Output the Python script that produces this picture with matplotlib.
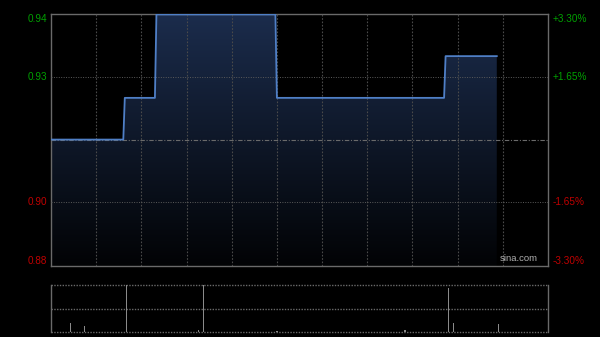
import numpy as np
import matplotlib
matplotlib.use('Agg')
import matplotlib.pyplot as plt
from matplotlib.patches import Polygon

plt.rcParams['font.family'] = ['Liberation Sans', 'DejaVu Sans']

# price vertices (minutes since 9:30, HK session = 330 min)
times = [0, 48, 49, 69, 70, 149, 150, 261, 262, 296]
prices = [0.915, 0.915, 0.925, 0.925, 0.945, 0.945, 0.925, 0.925, 0.935, 0.935]
prev_close = 0.9149

left_ticks = [0.9451, 0.93, 0.90, 0.8847]
left_labels = ['0.94', '0.93', '0.90', '0.88']
right_labels = ['+3.30%', '+1.65%', '-1.65%', '-3.30%']

# volume bars
vol_t = [13, 22, 50, 98, 101, 150, 235, 264, 267, 297]
vol_v = [19, 13, 100, 5, 100, 2, 5, 94, 20, 18]

total_min = 330
ymin, ymax = 0.8847, 0.9451

fig = plt.figure(figsize=(6, 3.37), dpi=100)
fig.patch.set_facecolor('black')

ax = fig.add_axes([51/600, 71/337, 497/600, 252/337])
ax.set_facecolor('black')
ax.set_xlim(0, total_min)
ax.set_ylim(ymin, ymax)

# gradient fill under the line
grad = np.linspace(0, 1, 256).reshape(-1, 1)
top_c = np.array([0x1b, 0x2c, 0x4c]) / 255
bot_c = np.array([0x02, 0x03, 0x05]) / 255
img = top_c * grad[..., None] + bot_c * (1 - grad[..., None])
im = ax.imshow(img, extent=[0, total_min, ymin, ymax], origin='lower',
               aspect='auto', zorder=1)
poly = Polygon(list(zip(times, prices)) + [(times[-1], ymin), (times[0], ymin)],
               closed=True, transform=ax.transData, facecolor='none', edgecolor='none')
ax.add_patch(poly)
im.set_clip_path(poly)

ax.plot(times, prices, color='#4f7fc6', lw=1.3, zorder=4)

# grid
for m in range(30, total_min, 30):
    ax.axvline(m, color='#4a4a4a', lw=0.8, ls=(0, (1.5, 1.5)), zorder=3)
for y in [0.93, 0.90]:
    ax.axhline(y, color='#5a5a5a', lw=0.7, ls=(0, (1, 1.5)), zorder=3)
ax.axhline(prev_close, color='#6a6a6a', lw=0.8, ls=(0, (4, 1.5, 1, 1.5)), zorder=3)

for s in ax.spines.values():
    s.set_color('#6a6a6a')
    s.set_linewidth(1)
ax.set_xticks([])
ax.set_yticks([])

colors = ['#00a000', '#00a000', '#c00000', '#c00000']
vas = ['top', 'center', 'center', 'bottom']
for yv, ll, rl, c, va in zip(left_ticks, left_labels, right_labels, colors, vas):
    ax.text(-4/1.506, yv, ll, color=c, fontsize=7.2, ha='right', va=va)
    ax.text(total_min + 5/1.506, yv, rl, color=c, fontsize=7.2, ha='left', va=va)

ax.text(298, ymin + 0.0006, 'sina.com', color='#b0b0b0', fontsize=6.8,
        ha='left', va='bottom', zorder=5)

# volume panel
vax = fig.add_axes([51/600, 5/337, 497/600, 47/337])
vax.set_facecolor('black')
vax.set_xlim(0, total_min)
vax.set_ylim(0, 100)
vax.bar(vol_t, vol_v, width=0.8, color='#8a8a8a', zorder=3)
for y in [0, 50, 100]:
    vax.axhline(y, color='#6a6a6a', lw=1, ls=(0, (1, 1)), zorder=2, clip_on=False)
for k in ['top', 'bottom']:
    vax.spines[k].set_visible(False)
for k in ['left', 'right']:
    vax.spines[k].set_color('#6a6a6a')
    vax.spines[k].set_linewidth(1)
vax.set_xticks([])
vax.set_yticks([])

fig.savefig('out.png', dpi=100, facecolor='black')
